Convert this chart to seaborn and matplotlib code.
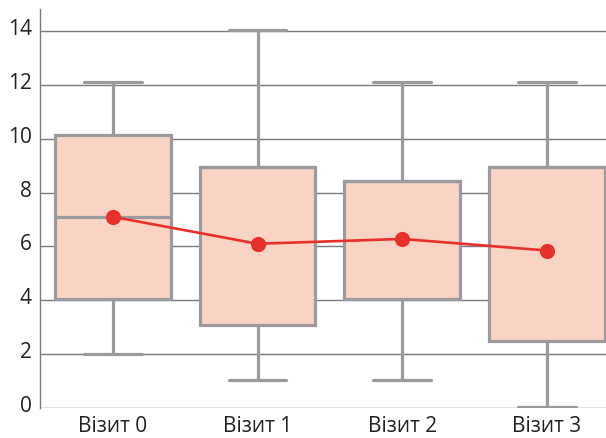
import numpy as np
import pandas as pd
import seaborn as sns
import matplotlib
matplotlib.use("Agg")
import matplotlib.pyplot as plt
from matplotlib.transforms import ScaledTranslation

# Data (five-number summaries per visit)
visits = ["Візит 0", "Візит 1", "Візит 2", "Візит 3"]
mins = [2.0, 1.05, 1.05, 0.05]
q1s = [4.05, 3.1, 4.05, 2.5]
medians = [7.1, 8.95, 8.45, 8.95]
q3s = [10.15, 8.95, 8.45, 8.95]
maxs = [12.1, 14.05, 12.1, 12.1]
means = [7.1, 6.1, 6.28, 5.85]
yticks = [0, 2, 4, 6, 8, 10, 12, 14]

rows = []
for v, a, b, c, d, e in zip(visits, mins, q1s, medians, q3s, maxs):
    for val in (a, b, c, d, e):
        rows.append({"visit": v, "value": val})
df = pd.DataFrame(rows)
mean_df = pd.DataFrame({"visit": visits, "mean": means})

sns.set_style("white")
plt.rcParams["font.family"] = ["Open Sans", "DejaVu Sans"]

fig = plt.figure(figsize=(6.06, 4.39), dpi=100)
ax = fig.add_axes([40/606, (439-409)/439, (606-40)/606, (409-10)/439])

grid_c = "#7a7a7a"
for t in yticks:
    ax.axhline(t, color=grid_c, lw=1.0, zorder=0)

edge_c = "#9b9b9f"
sns.boxplot(data=df, x="visit", y="value", order=visits, whis=(0, 100),
            width=0.8, color="#f9d4c4", saturation=1, linecolor=edge_c,
            linewidth=2.3, showfliers=False, ax=ax, zorder=2)

sns.pointplot(data=mean_df, x="visit", y="mean", order=visits, color="#e8302a",
              markers="o", markersize=9.5, linewidth=1.9, ax=ax, zorder=5)

ax.set_ylim(0, 14.82)
ax.set_xlim(-0.505, 3.41)
ax.set_yticks(yticks)
ax.set_yticklabels([str(t) for t in yticks])
ax.set_xlabel("")
ax.set_ylabel("")
ax.tick_params(axis="both", length=0, labelsize=15, colors="#222222")
ax.tick_params(axis="y", pad=6)
ax.tick_params(axis="x", pad=5)
for s in ["top", "right", "bottom"]:
    ax.spines[s].set_visible(False)
ax.spines["left"].set_color(grid_c)
ax.spines["left"].set_linewidth(1.0)

off = ScaledTranslation(0, 5/100, fig.dpi_scale_trans)
for lab in ax.get_yticklabels():
    lab.set_transform(lab.get_transform() + off)

fig.savefig("out.png", dpi=100)
